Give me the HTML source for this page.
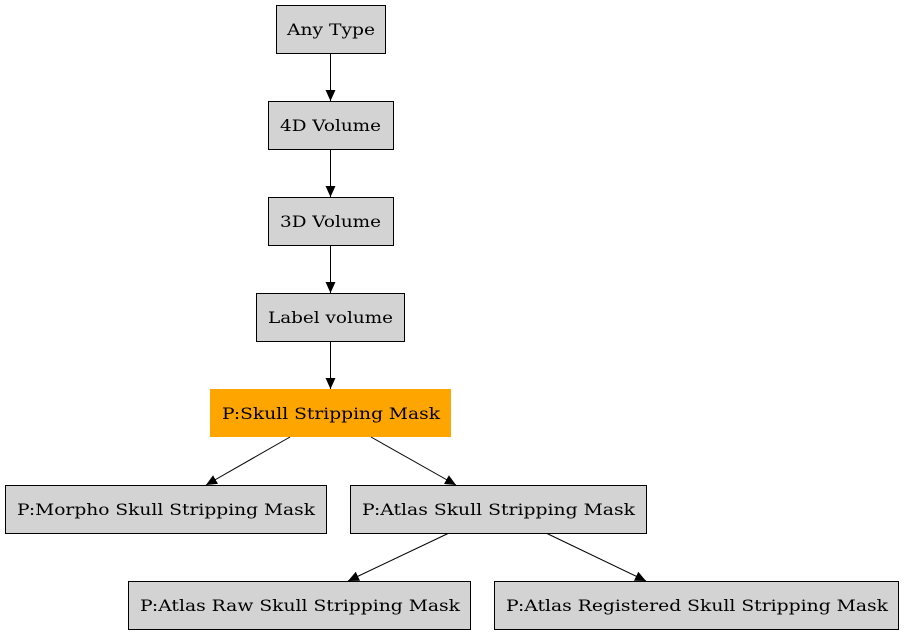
<!DOCTYPE html>
<html><head><meta charset="utf-8"><style>
html,body{margin:0;padding:0;background:#fff;width:904px;height:635px;overflow:hidden}
text{font-family:"DejaVu Serif","Liberation Serif",serif;font-size:16px;fill:#000}
</style></head><body>
<svg width="904" height="635" viewBox="0 0 904 635" xmlns="http://www.w3.org/2000/svg">
<defs><marker id="a" markerWidth="11" markerHeight="10" refX="11" refY="5" orient="auto" markerUnits="userSpaceOnUse"><path d="M0,0 L11,5 L0,10 Z" fill="#000"/></marker></defs>
<g fill="#d3d3d3" stroke="#000" stroke-width="1">
<rect x="276.5" y="5.5" width="109" height="48"/>
<rect x="268.5" y="101.5" width="125" height="48"/>
<rect x="268.5" y="197.5" width="125" height="48"/>
<rect x="256.5" y="293.5" width="148" height="48"/>
<rect x="5.5" y="485.5" width="321" height="48"/>
<rect x="350.5" y="485.5" width="296" height="48"/>
<rect x="128.5" y="581.5" width="342" height="48"/>
<rect x="494.5" y="581.5" width="404" height="48"/>
</g>
<rect x="210" y="389" width="241" height="48" fill="#ffa500"/>
<g stroke="#000" stroke-width="1" marker-end="url(#a)">
<line x1="330.5" y1="53.5" x2="330.5" y2="101"/>
<line x1="330.5" y1="149.5" x2="330.5" y2="197"/>
<line x1="330.5" y1="245.5" x2="330.5" y2="293"/>
<line x1="330.5" y1="341.5" x2="330.5" y2="389"/>
<line x1="290" y1="437" x2="206" y2="485"/>
<line x1="371" y1="437" x2="456" y2="485"/>
<line x1="448" y1="533.5" x2="348" y2="581"/>
<line x1="547" y1="533.5" x2="646" y2="581"/>
</g>
<g text-anchor="start">
<text x="287" y="35" textLength="88" lengthAdjust="spacingAndGlyphs">Any Type</text>
<text x="280" y="131" textLength="101" lengthAdjust="spacingAndGlyphs">4D Volume</text>
<text x="280" y="227" textLength="101" lengthAdjust="spacingAndGlyphs">3D Volume</text>
<text x="268" y="323" textLength="125" lengthAdjust="spacingAndGlyphs">Label volume</text>
<text x="222" y="419" textLength="218" lengthAdjust="spacingAndGlyphs">P:Skull Stripping Mask</text>
<text x="17" y="515" textLength="298" lengthAdjust="spacingAndGlyphs">P:Morpho Skull Stripping Mask</text>
<text x="362" y="515" textLength="273" lengthAdjust="spacingAndGlyphs">P:Atlas Skull Stripping Mask</text>
<text x="140" y="611" textLength="320" lengthAdjust="spacingAndGlyphs">P:Atlas Raw Skull Stripping Mask</text>
<text x="506" y="611" textLength="382" lengthAdjust="spacingAndGlyphs">P:Atlas Registered Skull Stripping Mask</text>
</g>
</svg>
</body></html>
